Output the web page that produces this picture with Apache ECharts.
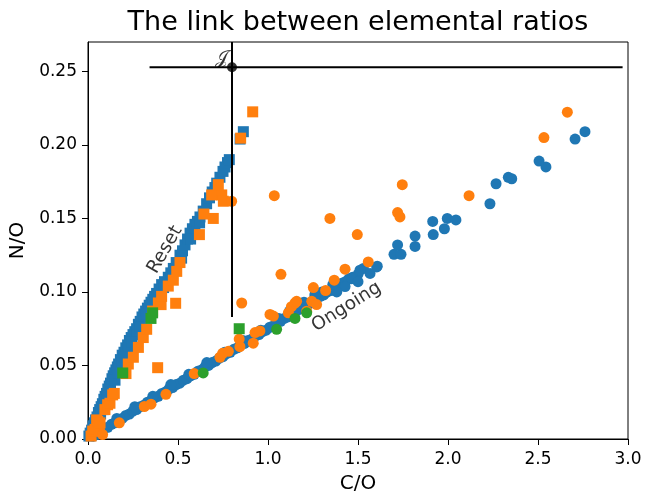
<!DOCTYPE html>
<html>
<head>
<meta charset="utf-8">
<script src="https://cdn.jsdelivr.net/npm/echarts@6/dist/echarts.min.js"></script>
<style>
  html, body { margin: 0; padding: 0; background: #fff; }
  #chart { width: 645px; height: 499px; }
</style>
</head>
<body>
<div id="chart"></div>
<script>
// Reset branch, blue squares [C/O, N/O]
var resetBlue = [
  [0.005,0.002],[0.012,0.004],[0.02,0.006],[0.028,0.009],[0.035,0.011],[0.042,0.013],[0.05,0.015],
  [0.058,0.018],[0.065,0.020],[0.073,0.022],[0.08,0.024],[0.088,0.027],[0.095,0.029],[0.103,0.031],
  [0.11,0.034],[0.118,0.036],[0.125,0.038],[0.133,0.041],[0.14,0.043],[0.148,0.045],[0.155,0.047],
  [0.163,0.049],[0.17,0.051],[0.18,0.054],[0.19,0.057],[0.20,0.059],[0.21,0.062],[0.22,0.064],
  [0.23,0.067],[0.24,0.069],[0.25,0.071],[0.26,0.073],[0.27,0.075],[0.28,0.078],[0.29,0.080],
  [0.30,0.083],[0.31,0.085],[0.32,0.087],[0.33,0.089],[0.34,0.091],[0.35,0.093],[0.36,0.095],
  [0.37,0.097],[0.381,0.099],[0.395,0.102],[0.409,0.105],[0.425,0.107],[0.446,0.110],[0.46,0.113],
  [0.474,0.116],[0.49,0.120],[0.511,0.125],[0.525,0.128],[0.539,0.132],[0.553,0.136],[0.567,0.140],
  [0.58,0.143],[0.594,0.146],[0.608,0.148],[0.622,0.151],[0.64,0.155],[0.659,0.160],[0.675,0.164],
  [0.69,0.168],[0.705,0.171],[0.715,0.174],[0.733,0.178],[0.75,0.182],[0.761,0.185],[0.775,0.188],
  [0.785,0.190],[0.845,0.204],[0.863,0.209],
  [0.03,0.006],[0.07,0.017],[0.11,0.029],[0.15,0.040],[0.19,0.052],[0.23,0.062],[0.27,0.071],
  [0.045,0.008],[0.085,0.020],[0.125,0.032],[0.165,0.045],[0.205,0.056],[0.245,0.066],[0.29,0.076],
  [0.33,0.085],[0.37,0.093],[0.42,0.103],[0.47,0.111],[0.52,0.123],[0.57,0.136],[0.62,0.147]
];

// Ongoing branch, blue circles
var ongoingBlue = [
  [0.03,0.002],[0.05,0.003],[0.07,0.005],[0.09,0.007],[0.11,0.008],[0.13,0.010],[0.15,0.011],
  [0.17,0.013],[0.19,0.014],[0.21,0.016],[0.23,0.017],[0.25,0.019],[0.27,0.020],[0.29,0.022],
  [0.31,0.023],[0.33,0.025],[0.35,0.026],[0.37,0.028],[0.39,0.029],[0.41,0.031],[0.43,0.032],
  [0.45,0.034],[0.47,0.035],[0.49,0.037],[0.51,0.038],[0.53,0.040],[0.55,0.041],[0.57,0.043],
  [0.59,0.044],[0.61,0.046],[0.63,0.047],[0.65,0.049],[0.67,0.050],[0.69,0.052],[0.71,0.053],
  [0.73,0.055],[0.75,0.056],[0.77,0.058],[0.79,0.059],[0.81,0.061],[0.83,0.062],[0.85,0.064],
  [0.87,0.065],[0.89,0.067],[0.91,0.068],[0.93,0.070],[0.95,0.071],[0.97,0.073],[0.99,0.074],
  [1.01,0.076],[1.03,0.077],[1.05,0.079],[1.07,0.080],[1.09,0.082],[1.11,0.083],[1.13,0.085],
  [1.15,0.086],[1.17,0.088],[1.19,0.089],[1.21,0.091],[1.23,0.092],[1.25,0.094],[1.27,0.095],
  [1.29,0.097],[1.31,0.098],[1.33,0.100],[1.35,0.101],[1.37,0.103],[1.39,0.104],[1.41,0.106],
  [1.43,0.107],[1.45,0.109],[1.47,0.110],[1.50,0.112],[1.53,0.116],[1.567,0.1126],[1.604,0.117],
  [1.465,0.109],[1.511,0.1148],[1.50,0.107],[1.428,0.1037],[1.382,0.100],[1.30,0.100],[1.20,0.093],
  [0.16,0.014],[0.36,0.029],[0.56,0.044],[0.76,0.059],[0.96,0.074],[1.12,0.087],[1.26,0.098],
  [0.26,0.022],[0.46,0.037],[0.66,0.052],[0.86,0.067],[1.06,0.082],[1.36,0.105],
  [1.607,0.1175],[1.70,0.1256],[1.739,0.1256],[1.72,0.132],[1.817,0.131],[1.817,0.138],
  [1.915,0.148],[1.918,0.139],[1.98,0.143],[1.996,0.150],[2.044,0.149],[2.233,0.160],
  [2.267,0.1736],[2.335,0.178],[2.354,0.177],[2.506,0.189],[2.544,0.185],[2.706,0.204],[2.761,0.209]
];

// Reset branch, orange squares
var resetOrange = [
  [0.017,0.002],[0.026,0.0054],[0.039,0.0065],[0.048,0.013],[0.054,0.012],[0.063,0.0054],[0.067,0.011],
  [0.094,0.020],[0.109,0.0233],[0.122,0.0243],[0.137,0.030],[0.146,0.031],[0.211,0.0445],
  [0.224,0.051],[0.252,0.0556],[0.28,0.0623],[0.307,0.069],[0.326,0.0746],[0.359,0.087],
  [0.391,0.0925],[0.406,0.0914],[0.387,0.0485],[0.487,0.0923],[0.409,0.097],[0.446,0.104],
  [0.474,0.108],[0.493,0.114],[0.511,0.120],[0.619,0.139],[0.644,0.153],[0.696,0.150],
  [0.687,0.166],[0.743,0.166],[0.752,0.1617],[0.724,0.173],[0.848,0.2046],[0.915,0.2225]
];

// Ongoing branch, orange circles
var ongoingOrange = [
  [0.081,0.003],[0.174,0.011],[0.313,0.0221],[0.35,0.0237],[0.433,0.0304],[0.59,0.0445],
  [0.733,0.0556],[0.748,0.0583],[0.78,0.0596],[0.844,0.0628],[0.84,0.068],[0.918,0.0652],
  [0.928,0.0724],[0.955,0.0735],[1.011,0.0847],[1.03,0.0836],[1.113,0.0858],[1.13,0.090],
  [1.15,0.0925],[1.159,0.0936],[1.215,0.0869],[1.243,0.0936],[1.27,0.0914],[1.252,0.103],
  [1.32,0.101],[1.368,0.108],[1.428,0.1155],[1.557,0.1204],[1.496,0.139],[1.344,0.150],
  [1.072,0.112],[0.854,0.0925],[0.798,0.1617],[1.035,0.1655],[1.72,0.154],[1.733,0.151],
  [1.746,0.173],[2.117,0.1655],[2.533,0.205],[2.663,0.2223]
];

// Green markers on both branches
var resetGreen = [[0.193,0.0449],[0.35,0.082],[0.359,0.0858],[0.84,0.075]];
var ongoingGreen = [[0.64,0.0449],[1.048,0.0746],[1.15,0.082],[1.215,0.0858]];

// Reference point J and its guide lines
var jPoint = [[0.80,0.2528]];
var jHorizontal = [[0.342,0.2528],[2.97,0.2528]];
var jVertical = [[0.80,0.270],[0.80,0.083]];

// Branch captions: [x, y, text, rotation in degrees]
var captions = [[0.428,0.1287,'Reset',60],[1.436,0.0898,'Ongoing',32]];

var xTicks = { min: 0, max: 3.0, interval: 0.5 };
var yTicks = { min: 0, max: 0.270, interval: 0.05 };

var BLUE = '#1f77b4', ORANGE = '#ff7f0e', GREEN = '#2ca02c';
var FONT = 'DejaVu Sans';
var MS = 11;
var GRID = { left: 88, right: 17, top: 42, bottom: 56 };

function scatter(data, symbol, color) {
  return {
    type: 'scatter', data: data, symbol: symbol, symbolSize: MS,
    itemStyle: { color: color, opacity: 1 }, silent: true
  };
}

var chart = echarts.init(document.getElementById('chart'), null, { renderer: 'canvas' });
var plotCenter = GRID.left + (645 - GRID.left - GRID.right) / 2;
chart.setOption({
  animation: false,
  backgroundColor: '#fff',
  title: {
    text: 'The link between elemental ratios',
    left: plotCenter, textAlign: 'center', top: 9, padding: 0,
    textStyle: { fontFamily: FONT, fontSize: 27, fontWeight: 'normal', color: '#000' }
  },
  grid: { left: GRID.left, right: GRID.right, top: GRID.top, bottom: GRID.bottom,
    show: true, borderColor: '#000', borderWidth: 1 },
  xAxis: {
    type: 'value', min: xTicks.min, max: xTicks.max, interval: xTicks.interval,
    name: 'C/O', nameLocation: 'middle', nameGap: 35,
    nameTextStyle: { fontFamily: FONT, fontSize: 20, color: '#000' },
    axisLine: { show: true, lineStyle: { color: '#000', width: 1 } },
    axisTick: { show: true, length: 6, lineStyle: { color: '#000' } },
    axisLabel: { fontFamily: FONT, fontSize: 17, color: '#000', margin: 12,
      formatter: function (v) { return v.toFixed(1); } },
    splitLine: { show: false }
  },
  yAxis: {
    type: 'value', min: yTicks.min, max: yTicks.max, interval: yTicks.interval,
    name: 'N/O', nameLocation: 'middle', nameGap: 56,
    nameTextStyle: { fontFamily: FONT, fontSize: 20, color: '#000' },
    axisLine: { show: true, lineStyle: { color: '#000', width: 1 } },
    axisTick: { show: true, length: 6, lineStyle: { color: '#000' } },
    axisLabel: { fontFamily: FONT, fontSize: 17, color: '#000', margin: 11, showMaxLabel: false,
      formatter: function (v) {
        var k = Math.round(v / 0.05);
        return Math.abs(k * 0.05 - v) < 1e-6 ? v.toFixed(2) : '';
      } },
    splitLine: { show: false }
  },
  series: [
    scatter(resetBlue, 'rect', BLUE),
    scatter(ongoingBlue, 'circle', BLUE),
    scatter(resetOrange, 'rect', ORANGE),
    scatter(ongoingOrange, 'circle', ORANGE),
    scatter(resetGreen, 'rect', GREEN),
    scatter(ongoingGreen, 'circle', GREEN),
    {
      type: 'line', data: jHorizontal, symbol: 'none', silent: true,
      lineStyle: { color: '#000', width: 2 }
    },
    {
      type: 'line', data: jVertical, symbol: 'none', silent: true,
      lineStyle: { color: '#000', width: 2 }
    },
    {
      type: 'scatter', data: jPoint, symbol: 'circle', symbolSize: 10, silent: true,
      itemStyle: { color: '#000' },
      label: {
        show: true, position: 'top', distance: 0, offset: [-11, 6],
        formatter: '\uD835\uDCA5',
        fontFamily: 'DejaVu Serif, DejaVu Sans, Noto Sans', fontSize: 19, color: '#000'
      }
    },
    {
      type: 'scatter', silent: true, symbolSize: 1,
      itemStyle: { color: 'rgba(0,0,0,0)' },
      data: captions.map(function (c) {
        return {
          value: [c[0], c[1]],
          label: { show: true, position: 'inside', formatter: c[2], rotate: c[3],
            fontFamily: FONT, fontSize: 18.5, color: '#000' }
        };
      })
    }
  ]
});
</script>
</body>
</html>
